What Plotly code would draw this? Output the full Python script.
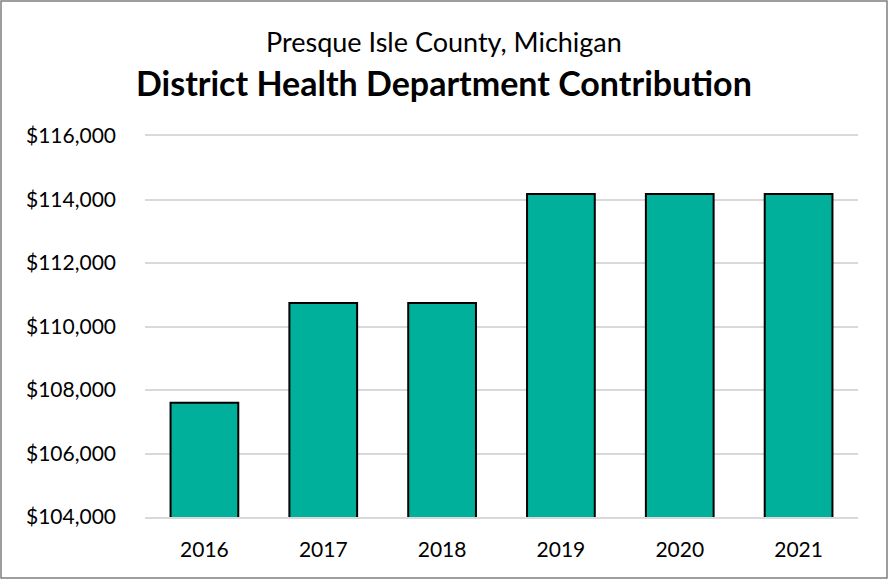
import plotly.graph_objects as go

# Annual district health department contribution (USD)
years = ["2016", "2017", "2018", "2019", "2020", "2021"]
contribution = [107600, 110740, 110740, 114170, 114170, 114170]
tick_values = [104000, 106000, 108000, 110000, 112000, 114000, 116000]
tick_labels = ["$104,000", "$106,000", "$108,000", "$110,000", "$112,000", "$114,000", "$116,000"]

W, H = 888, 579
ML, MR, MT, MB = 145, 30, 136, 62
FONT = "Lato, Open Sans, sans-serif"
GRID = "#d9d9d9"

fig = go.Figure(
    go.Bar(
        x=years,
        y=contribution,
        marker=dict(color="#00b09b", line=dict(color="#000000", width=2)),
        width=0.57,
        hoverinfo="x+y",
    )
)

pw = W - ML - MR
ph = H - MT - MB


def px_x(v):
    return (v - ML) / pw


def px_y(v):
    return (H - MB - v) / ph


fig.update_layout(
    width=W,
    height=H,
    margin=dict(l=ML, r=MR, t=MT, b=MB),
    paper_bgcolor="white",
    plot_bgcolor="white",
    showlegend=False,
    font=dict(family=FONT, color="#000000"),
    xaxis=dict(
        type="category",
        showgrid=False,
        showline=True,
        linecolor=GRID,
        linewidth=2,
        mirror=True,
        ticks="",
        tickfont=dict(size=21, family=FONT),
        ticklabelstandoff=13,
    ),
    yaxis=dict(
        range=[104000, 116000],
        tickvals=tick_values,
        ticktext=tick_labels,
        showgrid=True,
        gridcolor=GRID,
        gridwidth=2,
        zeroline=False,
        showline=False,
        ticks="",
        tickfont=dict(size=21, family=FONT),
        ticklabelstandoff=28,
    ),
    annotations=[
        dict(
            text="Presque Isle County, Michigan",
            x=0.5, xref="paper", xanchor="center",
            y=px_y(42), yref="paper", yanchor="middle",
            showarrow=False,
            font=dict(size=27, family=FONT),
            xshift=(W / 2 - (ML + pw / 2)),
        ),
        dict(
            text="<b>District Health Department Contribution</b>",
            x=0.5, xref="paper", xanchor="center",
            y=px_y(82), yref="paper", yanchor="middle",
            showarrow=False,
            font=dict(size=34, family=FONT),
            xshift=(W / 2 - (ML + pw / 2)),
        ),
    ],
    shapes=[
        dict(
            type="rect",
            xref="paper", yref="paper",
            x0=px_x(1), x1=px_x(W - 1),
            y0=px_y(1), y1=px_y(H - 1),
            line=dict(color="#7f7f7f", width=1.5),
            fillcolor="rgba(0,0,0,0)",
            layer="above",
        )
    ],
)

fig.write_html("out.html")
